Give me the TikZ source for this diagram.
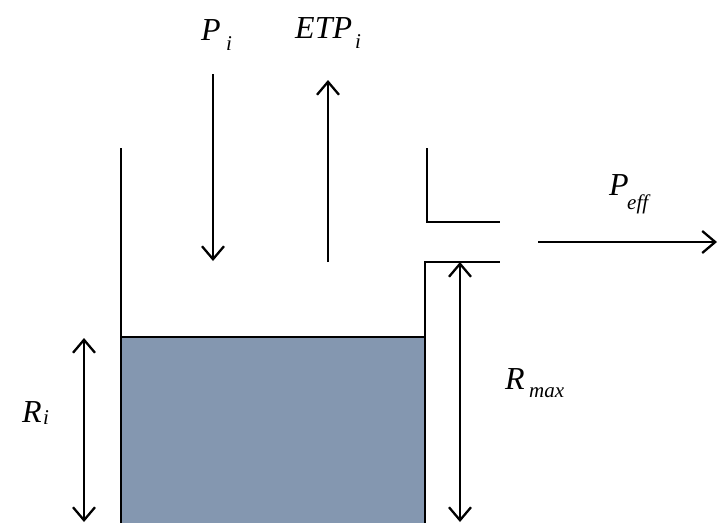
\documentclass[tikz,border=0pt]{standalone}
\usepackage{fontspec}
\setmainfont{Liberation Serif}
\usetikzlibrary{arrows.meta}
\definecolor{water}{HTML}{8497B0}
\tikzset{
  wall/.style={line width=2.8pt},
  barb/.style={},
  flow/.style={line width=2.3pt,-{Straight Barb[length=13pt,width=22pt,line width=2.3pt]}},
  dim/.style={line width=2.3pt,{Straight Barb[length=13pt,width=22pt,line width=2.3pt]}-{Straight Barb[length=13pt,width=22pt,line width=2.3pt]}},
  lab/.style={inner sep=0pt,anchor=base west,font=\fontsize{32}{36}\selectfont\itshape},
  sub/.style={inner sep=0pt,anchor=base west,font=\fontsize{21}{24}\selectfont\itshape}
}
\begin{document}
\begin{tikzpicture}[x=1pt,y=-1pt]
\useasboundingbox (0,0) rectangle (718,523);
% water
\fill[water] (121,337) rectangle (425,523);
% coordinates
\coordinate (lwtop) at (121,148);
\coordinate (lwbot) at (121,523);
\coordinate (rwbot) at (425,523);
\coordinate (rwtop) at (425,262);
\coordinate (rlip) at (500,262);
\coordinate (uwtop) at (427,148);
\coordinate (uwcor) at (427,222);
\coordinate (ulip) at (500,222);
\coordinate (wl) at (121,337);
\coordinate (wr) at (425,337);
\draw[wall] (lwtop) -- (lwbot);
\draw[wall] (rwbot) -- (rwtop) -- (rlip);
\draw[wall] (uwtop) -- (uwcor) -- (ulip);
\draw[wall] (wl) -- (wr);
% flows
\coordinate (pa) at (213,74);
\coordinate (pb) at (213,261);
\coordinate (ea) at (328,262);
\coordinate (eb) at (328,80);
\coordinate (fa) at (538,242);
\coordinate (fb) at (717,242);
\draw[flow] (pa) -- (pb);
\draw[flow] (ea) -- (eb);
\draw[flow] (fa) -- (fb);
% dimensions
\coordinate (ria) at (84,338);
\coordinate (rib) at (84,522);
\coordinate (rma) at (460,262);
\coordinate (rmb) at (460,522);
\draw[dim] (ria) -- (rib);
\draw[dim] (rma) -- (rmb);
% labels
\node[lab] (Pi) at (201,40) {P};
\node[sub] (Pis) at (226,50) {i};
\node[lab] (ETP) at (295,38) {ETP};
\node[sub] (ETPs) at (355,48) {i};
\node[lab] (Pe) at (609,195) {P};
\node[sub] (Pes) at (627,209) {eff};
\node[lab] (Rm) at (505,389) {R};
\node[sub] (Rms) at (529,397) {max};
\node[lab] (Ri) at (22,422) {R};
\node[sub] (Ris) at (43,424) {i};
\end{tikzpicture}
\end{document}
